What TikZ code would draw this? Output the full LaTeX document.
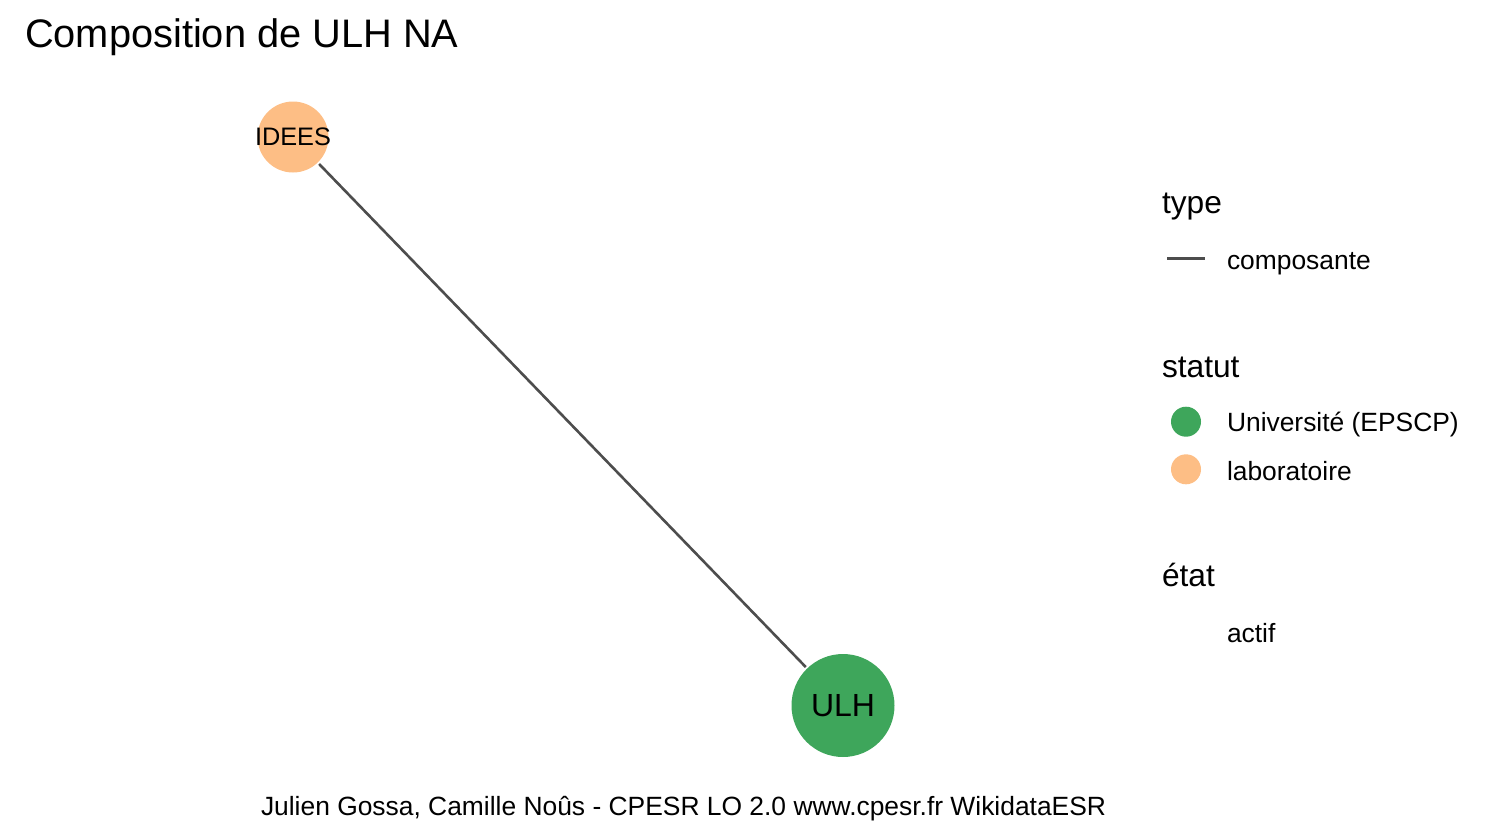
\documentclass[tikz,border=0pt]{standalone}
\usepackage{fontspec}
\setmainfont{Liberation Sans}
\usepackage{xcolor}
\usepackage{tikz}
\usetikzlibrary{positioning,calc}
\definecolor{universite}{RGB}{62,166,91}
\definecolor{labo}{RGB}{253,190,133}
\definecolor{lien}{RGB}{77,77,77}

\begin{document}
\begin{tikzpicture}[
    x=1pt, y=-1pt,
    vertex/.style={circle, draw=none, inner sep=0pt, outer sep=2pt},
    edge/.style={draw=lien, line width=2.6pt},
    txt/.style={anchor=base west, inner sep=0pt, outer sep=0pt},
    titre/.style={txt, font=\fontsize{39.8}{44}\selectfont},
    legtitle/.style={txt, font=\fontsize{31.7}{36}\selectfont},
    legtext/.style={txt, font=\fontsize{26.4}{30}\selectfont},
    keydot/.style={circle, inner sep=0pt, minimum size=30pt}
]
    \useasboundingbox (0,0) rectangle (1492,839);

    % Title
    \node[titre] (title) at (25,47) {Composition de ULH NA};

    % Nodes
    \node[vertex, fill=labo, minimum size=71pt,
        label={[font=\fontsize{25.3}{30}\selectfont]center:IDEES}] (idees) at (293,137) {};
    \node[vertex, fill=universite, minimum size=103pt,
        label={[font=\fontsize{32}{36}\selectfont]center:ULH}] (ulh) at (843,705.5) {};

    % Edges
    \draw[edge] (idees) -- (ulh);

    % Legend
    \node[legtitle] (type) at (1162,213) {type};
    \draw[edge] (1167,258.7) -- (1205,258.7);
    \node[legtext] (composante) at (1227,269) {composante};

    \node[legtitle] (statut) at (1162,377) {statut};
    \node[keydot, fill=universite] (keyuniv) at (1186,421.7) {};
    \node[legtext] (univ) at (1227,431.7) {Université (EPSCP)};
    \node[keydot, fill=labo] (keylabo) at (1186,469.3) {};
    \node[legtext] (laboratoire) at (1227,480) {laboratoire};

    \node[legtitle] (etat) at (1162,586.7) {état};
    \node[legtext] (actif) at (1227,642.7) {actif};

    % Caption
    \node[legtext] (caption) at (261,815) {Julien Gossa, Camille Noûs - CPESR LO 2.0 www.cpesr.fr WikidataESR};
\end{tikzpicture}
\end{document}
